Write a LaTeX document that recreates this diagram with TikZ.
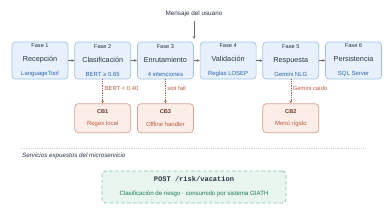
\documentclass[tikz,border=0pt]{standalone}
\usepackage{fontspec}
\setmainfont{Liberation Sans}
\setmonofont{Liberation Mono}
\usetikzlibrary{arrows.meta, positioning}
\definecolor{fasebg}{RGB}{232,241,251}
\definecolor{fasebd}{RGB}{160,194,232}
\definecolor{inkc}{RGB}{38,50,72}
\definecolor{bluec}{RGB}{42,102,178}
\definecolor{cbbg}{RGB}{251,238,233}
\definecolor{cbbd}{RGB}{215,162,142}
\definecolor{cbink}{RGB}{105,55,40}
\definecolor{cbtxt}{RGB}{188,92,62}
\definecolor{apibg}{RGB}{232,246,239}
\definecolor{apibd}{RGB}{128,198,166}
\definecolor{apitxt}{RGB}{30,122,90}
\definecolor{mutec}{RGB}{105,105,110}
\definecolor{sepc}{RGB}{205,205,210}
\newcommand{\faseft}{\fontsize{4.8}{9.4}\selectfont}
\newcommand{\titft}{\fontsize{6.2}{9.4}\selectfont}
\newcommand{\subft}{\fontsize{5.1}{9.4}\selectfont}
\tikzset{
  fase/.style={
    rectangle, rounded corners=3pt, draw=fasebd, fill=fasebg, line width=0.6pt,
    minimum width=1.68cm, minimum height=1.11cm, inner sep=1pt,
    align=center, text=inkc
  },
  cb/.style={fase, draw=cbbd, fill=cbbg, text=cbink, minimum height=0.87cm},
  api/.style={rectangle, rounded corners=3pt, draw=apibd, fill=apibg, line width=0.6pt,
              densely dashed, minimum width=5.52cm, minimum height=0.96cm,
              align=center, inner sep=1pt},
  arr/.style={-{Stealth[length=2.4pt, width=2.2pt]}, draw=mutec, line width=0.4pt},
  fall/.style={-{Stealth[length=2.4pt, width=2.2pt]}, draw=cbtxt, densely dotted, line width=0.5pt},
  lbl/.style={font=\fontsize{5}{6}\selectfont, text=cbtxt, inner sep=1.5pt},
  note/.style={font=\fontsize{5.4}{6.5}\selectfont, text=inkc},
}
\begin{document}
\begin{tikzpicture}
  \useasboundingbox (0,0) rectangle (11.64,-6.51);
  % pipeline
  \node[fase] (fase1) at (1.2,-1.815) {{\faseft Fase 1}\\{\titft Recepción}\\{\subft\color{bluec} LanguageTool}};
  \node[fase, right=0.18cm of fase1] (fase2) {{\faseft Fase 2}\\{\titft Clasificación}\\{\subft\color{bluec} BERT ≥ 0.65}};
  \node[fase, right=0.18cm of fase2] (fase3) {{\faseft Fase 3}\\{\titft Enrutamiento}\\{\subft\color{bluec} 4 intenciones}};
  \node[fase, right=0.18cm of fase3] (fase4) {{\faseft Fase 4}\\{\titft Validación}\\{\subft\color{bluec} Reglas LOSEP}};
  \node[fase, right=0.18cm of fase4] (fase5) {{\faseft Fase 5}\\{\titft Respuesta}\\{\subft\color{bluec} Gemini NLG}};
  \node[fase, right=0.18cm of fase5] (fase6) {{\faseft Fase 6}\\{\titft Persistencia}\\{\subft\color{bluec} SQL Server}};
  \foreach \a/\b in {fase1/fase2, fase2/fase3, fase3/fase4, fase4/fase5, fase5/fase6}
    \draw[arr] (\a) -- (\b);

  % entrada
  \node[note] (msg) at (5.82,-0.42) {Mensaje del usuario};
  \coordinate (entry) at (5.82,-1.17);
  \draw[arr] (msg) -- (entry);

  % circuit breakers
  \node[cb, below=0.72cm of fase2] (cb1) {{\faseft\bfseries CB1}\\[-1pt]{\subft\color{cbtxt} Regex local}};
  \node[cb, below=0.72cm of fase3] (cb3) {{\faseft\bfseries CB3}\\[-1pt]{\subft\color{cbtxt} Offline handler}};
  \node[cb, below=0.72cm of fase5] (cb2) {{\faseft\bfseries CB2}\\[-1pt]{\subft\color{cbtxt} Menú rígido}};
  \draw[fall] (fase2) -- node[lbl, right, pos=0.38] {BERT < 0.40} (cb1);
  \draw[fall] (fase3) -- node[lbl, right, pos=0.38] {slot fail} (cb3);
  \draw[fall] (fase5) -- node[lbl, right, pos=0.38] {Gemini caído} (cb2);

  % servicios expuestos
  \draw[sepc, densely dotted, line width=0.6pt] (0.6,-4.44) -- (10.95,-4.44);
  \node[note, font=\fontsize{5.3}{6.5}\selectfont\itshape, anchor=west, inner sep=0pt] (svc) at (0.66,-4.68)
    {Servicios expuestos del microservicio};
  \node[api] (post) at (5.82,-5.61)
    {{\ttfamily\bfseries\fontsize{6}{9.5}\selectfont\color{inkc} POST /risk/vacation}\\
     {\fontsize{5.2}{9.5}\selectfont\color{apitxt} Clasificación de riesgo · consumido por sistema GIATH}};
\end{tikzpicture}
\end{document}
